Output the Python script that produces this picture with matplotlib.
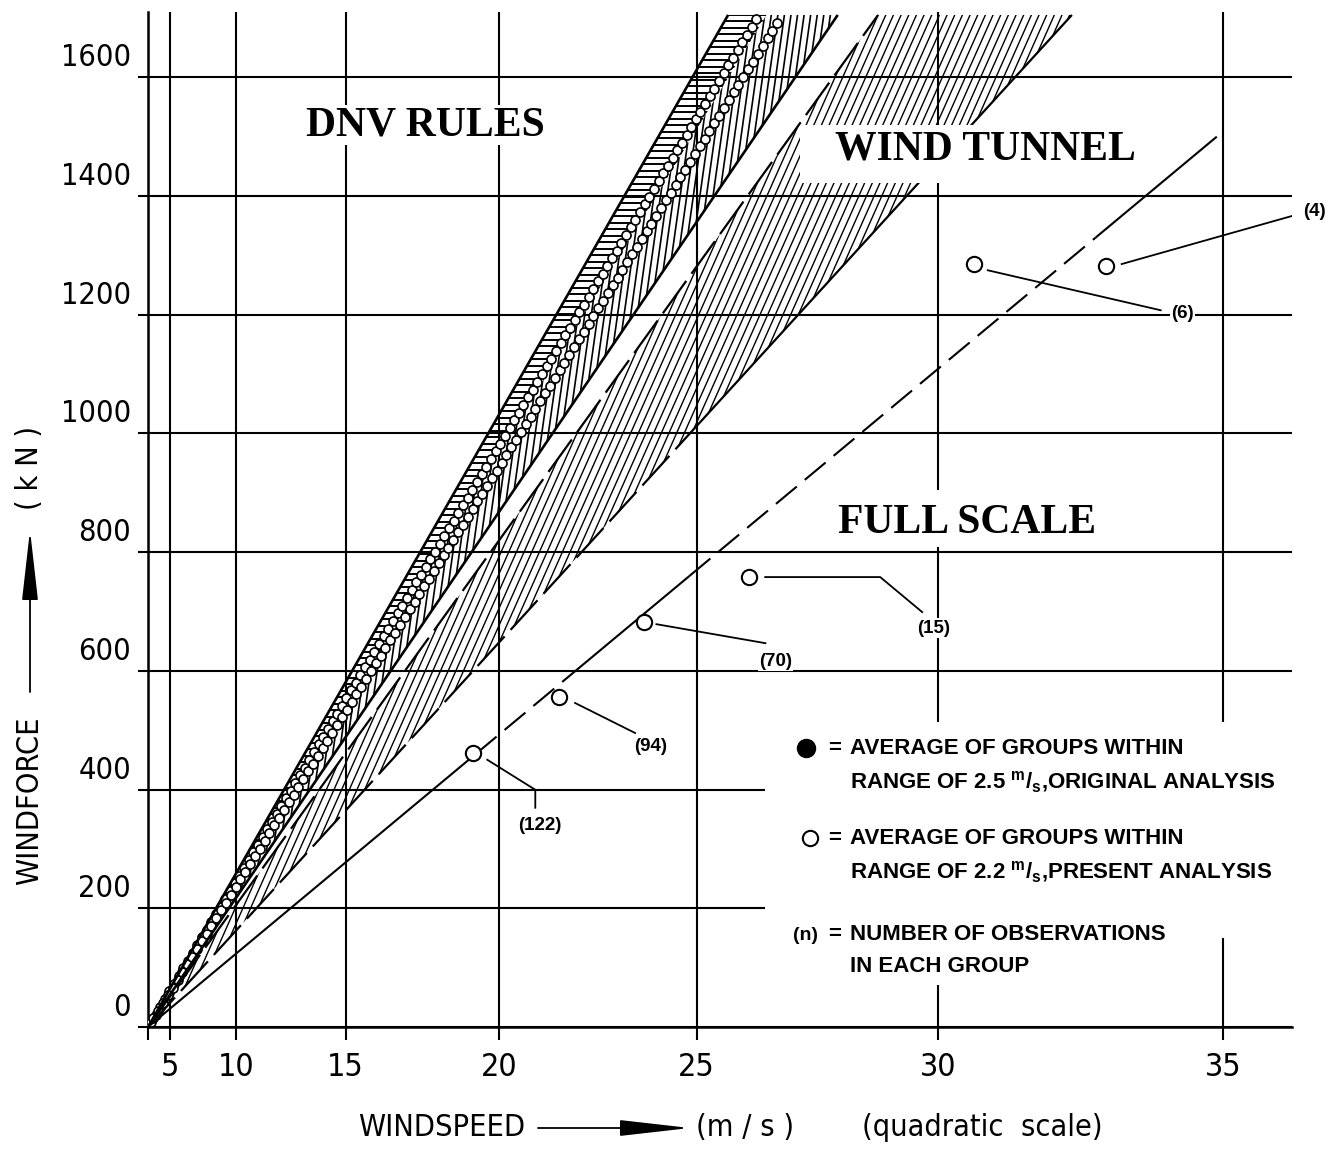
import numpy as np
import matplotlib
matplotlib.use('Agg')
import matplotlib.pyplot as plt
from matplotlib.patches import Polygon, Rectangle
from matplotlib.collections import LineCollection
from matplotlib.transforms import IdentityTransform, offset_copy

# wind force F = c * v^2, c in kN per (m/s)^2
dnv_upper = 2.58
dnv_split = 2.42
dnv_lower = 2.17
dnv_rings = [2.45, 2.36]
tunnel_upper = 2.05
tunnel_lower = 1.62
full_scale = 1.232
full_scale_top = 1500

# full scale group averages and group sizes
speed = [19.25, 21.64, 23.78, 26.17, 30.67, 33.03]
force = [462, 556, 682, 758, 1285, 1282]
n_obs = [122, 94, 70, 15, 6, 4]

speed_ticks = [5, 10, 15, 20, 25, 30, 35]
force_ticks = [0, 200, 400, 600, 800, 1000, 1200, 1400, 1600]
force_labels = ['0', '200', '400', '600', '800', '1000', '1200', '1400', '1600']

legend_rows = ['AVERAGE OF GROUPS WITHIN',
               r'RANGE OF 2.5 $^{\mathrm{m}}/_{\mathrm{s}}$,ORIGINAL ANALYSIS',
               'AVERAGE OF GROUPS WITHIN',
               r'RANGE OF 2.2 $^{\mathrm{m}}/_{\mathrm{s}}$,PRESENT ANALYSIS',
               'NUMBER OF OBSERVATIONS',
               'IN EACH GROUP']

TECH = dict(family='DejaVu Sans', stretch='condensed')
plt.rcParams['mathtext.fontset'] = 'custom'
plt.rcParams['mathtext.rm'] = 'Liberation Sans:bold'
plt.rcParams['mathtext.it'] = 'Liberation Sans:bold'

W, H = 1337, 1149
X0, Y0, AW, AH = 148, 1027, 1144, 1015   # plot box in pixels
F_TOP = 1705


def px(x, y):
    # pixel position -> axes fraction
    return (x - X0) / AW, (Y0 - y) / AH


def fpos(x, y):
    return x / W, 1 - y / H


fig = plt.figure(figsize=(W / 100, H / 100), dpi=100)
ax = fig.add_axes([X0 / W, (H - Y0) / H, AW / W, AH / H])
ax.set_xscale('function', functions=(lambda v: np.sign(v) * v**2,
                                     lambda q: np.sqrt(np.abs(q))))
ax.set_xlim(0, 36.1)
ax.set_ylim(0, 1710)

ax.set_xticks([0] + speed_ticks)
ax.set_yticks(force_ticks)
ax.grid(True, color='k', lw=1.5)
ax.set_axisbelow(True)
ax.tick_params(direction='out', width=1.5, color='k',
               labelbottom=False, labelleft=False)
ax.tick_params(axis='x', length=9)
ax.tick_params(axis='y', length=7.5)
for s in ['top', 'right']:
    ax.spines[s].set_visible(False)
for s in ['left', 'bottom']:
    ax.spines[s].set_linewidth(1.8)

# tick labels
for v in speed_ticks:
    ax.text(v, px(0, 1068)[1], str(v), transform=ax.get_xaxis_transform(),
            ha='center', va='center', fontsize=23, **TECH)
ylab_tr = offset_copy(ax.get_yaxis_transform(), fig=fig, y=5, units='dots')
for f, lab in zip(force_ticks, force_labels):
    ax.text(px(131, 0)[0], f, lab, transform=ylab_tr,
            ha='right', va='bottom', fontsize=22, **TECH)

# axis titles
fig.text(*fpos(442, 1128), 'WINDSPEED', ha='center', va='center',
         fontsize=22, **TECH)
fig.text(*fpos(745, 1128), '(m / s )', ha='center', va='center',
         fontsize=22, **TECH)
fig.text(*fpos(982, 1128), '(quadratic  scale)', ha='center', va='center',
         fontsize=22, **TECH)
ax.annotate('', xy=(690, H - 1128), xytext=(538, H - 1128),
            xycoords='figure pixels', textcoords='figure pixels',
            arrowprops=dict(arrowstyle='-|>,head_length=2.2,head_width=0.25',
                            lw=1.3, color='k', mutation_scale=20,
                            shrinkA=0, shrinkB=0))
fig.text(*fpos(30, 801), 'WINDFORCE', ha='center', va='center',
         rotation=90, fontsize=22, **TECH)
fig.text(*fpos(30, 468), '( k N )', ha='center', va='center',
         rotation=90, fontsize=22, **TECH)
ax.annotate('', xy=(30, H - 530), xytext=(30, H - 692),
            xycoords='figure pixels', textcoords='figure pixels',
            arrowprops=dict(arrowstyle='-|>,head_length=2.2,head_width=0.25',
                            lw=1.3, color='k', mutation_scale=20,
                            shrinkA=0, shrinkB=0))


def wedge(c_hi, c_lo):
    p = Polygon([(0, 0), (np.sqrt(F_TOP / c_hi), F_TOP),
                 (np.sqrt(F_TOP / c_lo), F_TOP)], closed=True,
                fc='none', ec='none')
    ax.add_patch(p)
    return p


def hatch(clip, angle, spacing, lw, z):
    t = np.deg2rad(angle)
    d = np.array([np.cos(t), np.sin(t)])
    nrm = np.array([-d[1], d[0]])
    L = np.hypot(AW, AH)
    segs = []
    for s in np.arange(-L, L, spacing):
        p0 = nrm * s - d * L
        p1 = nrm * s + d * L
        segs.append([(p0[0] / AW, p0[1] / AH), (p1[0] / AW, p1[1] / AH)])
    lc = LineCollection(segs, colors='k', linewidths=lw,
                        transform=ax.transAxes, zorder=z)
    lc.set_clip_path(clip)
    ax.add_collection(lc)


def edge(c, f0, f1, lw=1.8, dashes=None, z=4):
    f = np.array([f0, f1])
    ln, = ax.plot(np.sqrt(f / c), f, color='k', lw=lw, zorder=z,
                  solid_capstyle='butt')
    if dashes:
        ln.set_dashes(dashes)


# DNV rules band
hatch(wedge(dnv_upper, dnv_split), 0, 6.5, 1.4, 2)
hatch(wedge(dnv_split, dnv_lower), 82, 6.5, 1.2, 2)
for k, c in enumerate(dnv_rings):
    f = np.arange(8 + 6.5 * k, F_TOP - 5, 13)
    ax.plot(np.sqrt(f / c), f, 'o', ms=6.5, mfc='white', mec='k',
            mew=1.2, zorder=3)
edge(dnv_upper, 0, F_TOP, lw=1.9)
edge(dnv_lower, 0, F_TOP, lw=1.9)

# wind tunnel band
hatch(wedge(tunnel_upper, tunnel_lower), 66, 7.0, 1.0, 2)
edge(tunnel_upper, 0, F_TOP, lw=1.6, dashes=(18, 4))
edge(tunnel_lower, 1000, F_TOP, lw=1.6)
edge(tunnel_lower, 0, 1000, lw=1.6, dashes=(18, 4))

# full scale line
for f0, f1 in [(0, 460), (600, 760), (1330, full_scale_top)]:
    edge(full_scale, f0, f1, lw=1.5)
for f0, f1 in [(460, 600), (760, 1330)]:
    edge(full_scale, f0, f1, lw=1.5, dashes=(13, 5))

ax.plot(speed, force, 'o', ms=11, mfc='white', mec='k', mew=1.5, zorder=5)

# group size call-outs, offsets in pixels from each point
leaders = [[(14, 7), (62, 37), (62, 55)],
           [(16, 6), (76, 36)],
           [(12, 2), (121, 21)],
           [(16, 0), (131, 0), (173, 35)],
           [(14, 6), (187, 46)],
           [(16, -2), (186, -50)]]
label_off = [(67, 73), (92, 50), (131, 39), (184, 51), (209, 49), (209, -55)]
for v, f, n, path, (lx, ly) in zip(speed, force, n_obs, leaders, label_off):
    bx, by = ax.transData.transform((v, f))
    xs = [bx + dx for dx, dy in path]
    ys = [by - dy for dx, dy in path]
    ax.plot(xs, ys, color='k', lw=1.3, transform=IdentityTransform(), zorder=4)
    ax.text(bx + lx, by - ly, '(%d)' % n, transform=IdentityTransform(),
            ha='center', va='center', fontsize=13.5, fontweight='bold',
            family='Liberation Sans', zorder=6,
            bbox=dict(fc='white', ec='none', pad=1))

# white areas behind the region names and the key
for (x0, y0, x1, y1), z in [((800, 125, 1150, 183), 5),
                            ((825, 490, 1110, 547), 1.5),
                            ((295, 105, 556, 145), 1.5)]:
    ax.add_patch(Rectangle(px(x0, y1), (x1 - x0) / AW, (y1 - y0) / AH,
                           transform=ax.transAxes, fc='white', ec='none',
                           zorder=z))
ax.add_patch(Polygon([px(765, 722), px(1300, 722), px(1300, 938),
                      px(1190, 938), px(1190, 985), px(765, 985)],
                     closed=True, transform=ax.transAxes, fc='white',
                     ec='none', zorder=1.5, clip_on=False))

for s, (x, y) in [('DNV RULES', (425, 125)), ('WIND TUNNEL', (985, 149)),
                  ('FULL SCALE', (967, 523))]:
    ax.text(*px(x, y), s, transform=ax.transAxes, ha='center', va='center',
            fontsize=30, fontweight='bold', family='Liberation Serif',
            zorder=6)

# key
key_y = [748, 782, 838, 872, 935, 967]
for y, s in zip(key_y, legend_rows):
    ax.text(*px(850, y), s, transform=ax.transAxes, ha='left', va='center',
            fontsize=16, fontweight='bold', family='Liberation Sans',
            zorder=6, clip_on=False)
for y in [key_y[0], key_y[2], key_y[4]]:
    ax.text(*px(835, y), '=', transform=ax.transAxes, ha='center',
            va='center', fontsize=16, fontweight='bold',
            family='Liberation Sans', zorder=6)
ax.plot(*px(806, 748), 'o', ms=13, color='k', transform=ax.transAxes,
        zorder=6)
ax.plot(*px(810, 838), 'o', ms=11, mfc='white', mec='k', mew=1.5,
        transform=ax.transAxes, zorder=6)
ax.text(*px(805, 935), '(n)', transform=ax.transAxes, ha='center',
        va='center', fontsize=14, fontweight='bold', family='Liberation Sans',
        zorder=6)

fig.savefig('out.png', dpi=100)
